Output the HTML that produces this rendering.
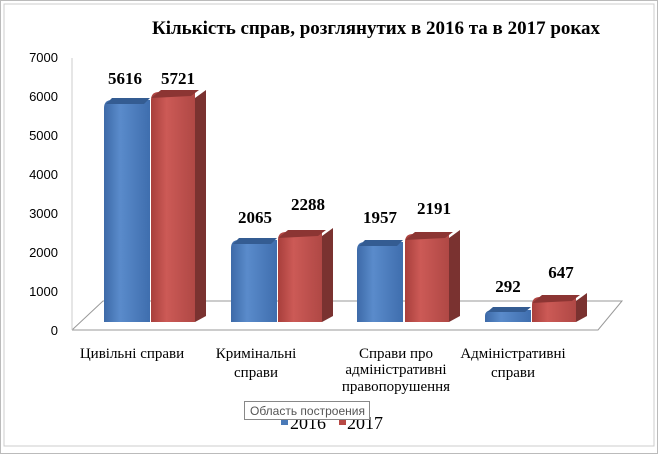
<!DOCTYPE html>
<html><head><meta charset="utf-8"><style>
body{margin:0;background:#fff}
svg{display:block;font-family:"Liberation Serif",serif}
</style></head><body>
<svg width="658" height="454" viewBox="0 0 658 454">
<defs>
<linearGradient id="b" x1="0" x2="1"><stop offset="0" stop-color="#3d6aa8"/><stop offset="0.35" stop-color="#5a8bcb"/><stop offset="1" stop-color="#3f6eae"/></linearGradient>
<linearGradient id="r" x1="0" x2="1"><stop offset="0" stop-color="#a83f3c"/><stop offset="0.35" stop-color="#cc5a56"/><stop offset="1" stop-color="#b04845"/></linearGradient>
</defs>
<rect x="0.5" y="0.5" width="657" height="453" fill="#fff" stroke="#bbb"/>
<rect x="4" y="4" width="650" height="442" fill="#fff" stroke="#ccc"/>
<text x="376" y="34" text-anchor="middle" font-size="19" font-weight="bold">Кількість справ, розглянутих в 2016 та в 2017 роках</text>
<g font-size="13" text-anchor="end" font-family="Liberation Sans,sans-serif">
<text x="58" y="62">7000</text><text x="58" y="101">6000</text><text x="58" y="140">5000</text><text x="58" y="179">4000</text><text x="58" y="218">3000</text><text x="58" y="257">2000</text><text x="58" y="296">1000</text><text x="58" y="335">0</text>
</g>
<g stroke="#999" fill="none">
<polyline points="72,330 103,301 622,301 598,330 72,330"/>
<line x1="72" y1="330" x2="72" y2="58" stroke="#ccc"/>
</g>
<g>
<path d="M104,322 V108 q0,-8 8,-8 h38 v222z" fill="url(#b)"/><path d="M104,106 l8,-8 h38 l-6,6 h-38z" fill="#345c92"/>
<path d="M151,322 V100 q0,-8 8,-8 h36 v230z" fill="url(#r)"/><path d="M195,98 l11,-8 v226 l-11,6z" fill="#7a3230"/><path d="M151,98 l10,-8 h38 l-8,6z" fill="#8c3533"/>
<path d="M231,322 V248 q0,-8 8,-8 h38 v82z" fill="url(#b)"/><path d="M231,246 l8,-8 h38 l-6,6 h-38z" fill="#345c92"/>
<path d="M278,322 V240 q0,-8 8,-8 h36 v90z" fill="url(#r)"/><path d="M322,236 l11,-8 v88 l-11,6z" fill="#7a3230"/><path d="M278,238 l10,-8 h38 l-8,6z" fill="#8c3533"/>
<path d="M357,322 V250 q0,-8 8,-8 h38 v80z" fill="url(#b)"/><path d="M357,248 l8,-8 h38 l-6,6 h-38z" fill="#345c92"/>
<path d="M405,322 V242 q0,-8 8,-8 h36 v88z" fill="url(#r)"/><path d="M449,238 l11,-8 v86 l-11,6z" fill="#7a3230"/><path d="M405,240 l10,-8 h38 l-8,6z" fill="#8c3533"/>
<path d="M485,322 V316 q0,-6 8,-6 h38 v12z" fill="url(#b)"/><path d="M485,314 l8,-7 h38 l-6,5 h-38z" fill="#345c92"/>
<path d="M532,322 V305 q0,-8 8,-8 h36 v25z" fill="url(#r)"/><path d="M576,301 l11,-8 v23 l-11,6z" fill="#7a3230"/><path d="M532,303 l10,-8 h38 l-8,6z" fill="#8c3533"/>
</g>
<g font-size="17" font-weight="bold" text-anchor="middle">
<text x="125" y="84">5616</text><text x="178" y="84">5721</text>
<text x="255" y="223">2065</text><text x="308" y="210">2288</text>
<text x="380" y="223">1957</text><text x="434" y="214">2191</text>
<text x="508" y="292">292</text><text x="561" y="278">647</text>
</g>
<g font-size="15" text-anchor="middle">
<text x="132" y="358">Цивільні  справи</text>
<text x="256" y="358">Кримінальні</text><text x="256" y="377">справи</text>
<text x="396" y="358">Справи про</text><text x="396" y="374">адміністративні</text><text x="396" y="391">правопорушення</text>
<text x="513" y="358">Адміністративні</text><text x="513" y="377">справи</text>
</g>
<rect x="281" y="418" width="7" height="7" fill="#4a7ab8"/><text x="290" y="429" font-size="18">2016</text>
<rect x="339" y="418" width="7" height="7" fill="#b84945"/><text x="347" y="429" font-size="18">2017</text>
<rect x="244.5" y="401.5" width="125" height="18" fill="#fff" stroke="#888"/>
<text x="250" y="415" font-size="12" fill="#555" font-family="Liberation Sans,sans-serif">Область построения</text>
</svg>
</body></html>
